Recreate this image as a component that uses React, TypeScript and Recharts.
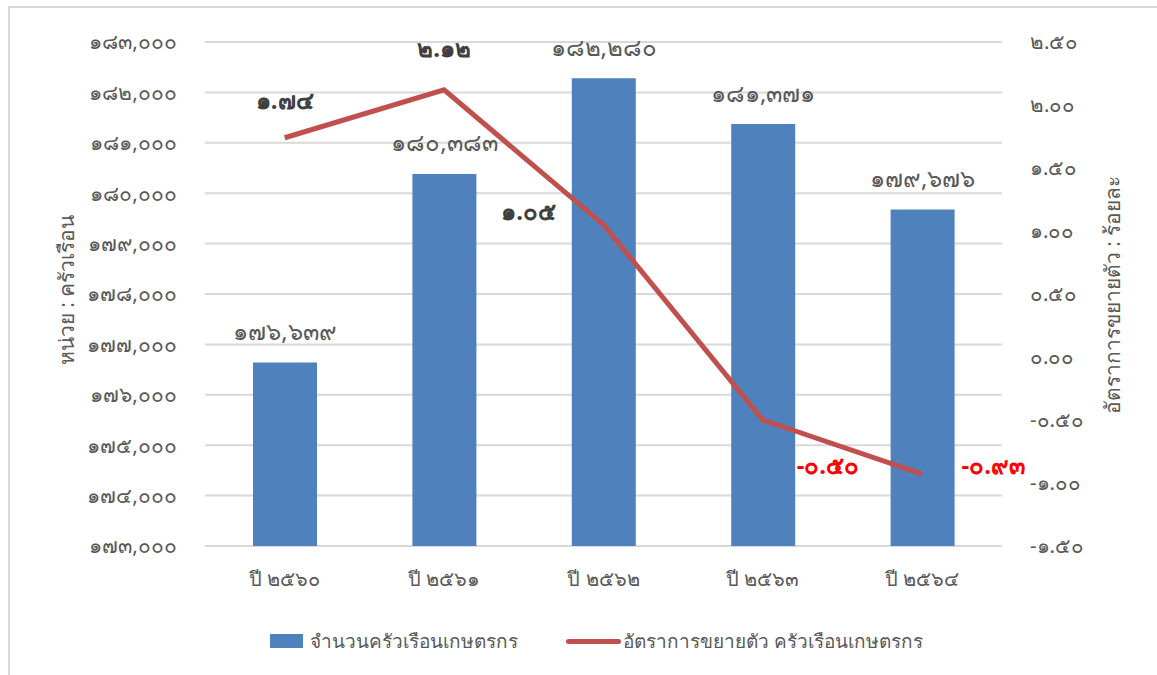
import React from "react";
import {
  Bar,
  CartesianGrid,
  ComposedChart,
  LabelList,
  Legend,
  Line,
  XAxis,
  YAxis,
} from "recharts";

const years = ["ปี ๒๕๖๐", "ปี ๒๕๖๑", "ปี ๒๕๖๒", "ปี ๒๕๖๓", "ปี ๒๕๖๔"];
const households = [176639, 180383, 182280, 181371, 179676];
const growthRate = [1.74, 2.12, 1.05, -0.5, -0.93];

const leftTicks = [173000, 174000, 175000, 176000, 177000, 178000, 179000, 180000, 181000, 182000, 183000];
const rightTicks = [-1.5, -1.0, -0.5, 0, 0.5, 1.0, 1.5, 2.0, 2.5];

const barName = "จำนวนครัวเรือนเกษตรกร";
const lineName = "อัตราการขยายตัว ครัวเรือนเกษตรกร";
const leftTitle = "หน่วย : ครัวเรือน";
const rightTitle = "อัตราการขยายตัว : ร้อยละ";

// where each growth label sits relative to its point
const growthLabelShift = [
  { dx: 0, dy: -38 },
  { dx: 0, dy: -42 },
  { dx: -75, dy: -14 },
  { dx: 65, dy: 44 },
  { dx: 71, dy: -10 },
];

const rows = years.map((year, i) => ({
  year,
  households: households[i],
  growth: growthRate[i],
}));

const FONT = "Tahoma, 'Noto Sans', sans-serif";
const GRAY = "#595959";

function thaiDigits(s: string): string {
  return s.replace(/[0-9]/g, (d) => String.fromCharCode(0x0e50 + Number(d)));
}

function AxisTitle(props: any) {
  const { value, side } = props;
  const cy = side === "left" ? 290 : 295;
  const cx = side === "left" ? 66 : 1112;
  return (
    <text
      x={cx}
      y={cy}
      transform={`rotate(-90 ${cx} ${cy})`}
      textAnchor="middle"
      dominantBaseline="central"
      fill={GRAY}
      fontSize={21}
      fontFamily={FONT}
    >
      {value}
    </text>
  );
}

function GrowthLabel(props: any) {
  const { x, y, value, index } = props;
  const shift = growthLabelShift[index] ?? { dx: 0, dy: -20 };
  const v = Number(value);
  return (
    <text
      x={x + shift.dx}
      y={y + shift.dy}
      textAnchor="middle"
      dominantBaseline="central"
      fill={v < 0 ? "#FF0000" : "#404040"}
      fontSize={24}
      fontWeight="bold"
      fontFamily={FONT}
    >
      {thaiDigits(v.toFixed(2))}
    </text>
  );
}

function HouseholdLabel(props: any) {
  const { x, y, width, value } = props;
  return (
    <text
      x={x + width / 2}
      y={y - 32}
      textAnchor="middle"
      dominantBaseline="central"
      fill={GRAY}
      fontSize={24}
      fontFamily={FONT}
    >
      {thaiDigits(Number(value).toLocaleString("en-US"))}
    </text>
  );
}

function LegendBox() {
  return (
    <div
      style={{
        display: "flex",
        justifyContent: "center",
        alignItems: "center",
        fontFamily: FONT,
        fontSize: 19,
        color: GRAY,
        paddingLeft: 36,
        paddingTop: 20,
      }}
    >
      <span style={{ display: "inline-block", width: 33, height: 14, background: "#4F81BD", marginRight: 7 }} />
      <span style={{ marginRight: 48 }}>{barName}</span>
      <span style={{ display: "inline-block", width: 55, height: 5, borderRadius: 3, background: "#C0504D", marginRight: 2 }} />
      <span>{lineName}</span>
    </div>
  );
}

export default function App() {
  return (
    <div style={{ position: "relative", width: 1157, height: 675, overflow: "hidden" }}>
      <style>{"body{margin:0;background:#fff}"}</style>
      <div
        style={{
          position: "absolute",
          left: 8,
          top: 6,
          width: 1200,
          height: 700,
          borderLeft: "2px solid #D9D9D9",
          borderTop: "2px solid #D9D9D9",
        }}
      />
      <div style={{ position: "absolute", left: 0, top: 0 }}>
        <ComposedChart
          width={1157}
          height={675}
          data={rows}
          margin={{ top: 42, right: 0, bottom: 24, left: 0 }}
          barCategoryGap={47}
        >
          <CartesianGrid yAxisId="left" vertical={false} stroke="#D9D9D9" strokeWidth={2} />
          <XAxis
            dataKey="year"
            axisLine={false}
            tickLine={false}
            tickMargin={20}
            height={60}
            tick={{ fill: GRAY, fontSize: 20, fontFamily: FONT }}
          />
          <YAxis
            yAxisId="left"
            orientation="left"
            width={205}
            domain={[173000, 183000]}
            ticks={leftTicks}
            axisLine={false}
            tickLine={false}
            tickMargin={22}
            tick={{ fill: GRAY, fontSize: 21, fontFamily: FONT }}
            tickFormatter={(v: number) => thaiDigits(v.toLocaleString("en-US"))}
            label={<AxisTitle side="left" value={leftTitle} />}
          />
          <YAxis
            yAxisId="right"
            orientation="right"
            width={155}
            domain={[-1.5, 2.5]}
            ticks={rightTicks}
            axisLine={false}
            tickLine={false}
            tickMargin={22}
            tick={{ fill: GRAY, fontSize: 20.5, fontFamily: FONT }}
            tickFormatter={(v: number) => thaiDigits(v.toFixed(2))}
            label={<AxisTitle side="right" value={rightTitle} />}
          />
          <Legend verticalAlign="bottom" height={45} content={() => <LegendBox />} />
          <Bar
            yAxisId="left"
            dataKey="households"
            name={barName}
            fill="#4F81BD"
            barSize={64}
            isAnimationActive={false}
          >
            <LabelList dataKey="households" content={<HouseholdLabel />} />
          </Bar>
          <Line
            yAxisId="right"
            dataKey="growth"
            name={lineName}
            stroke="#C0504D"
            strokeWidth={5}
            dot={false}
            activeDot={false}
            isAnimationActive={false}
          >
            <LabelList dataKey="growth" content={<GrowthLabel />} />
          </Line>
        </ComposedChart>
      </div>
    </div>
  );
}
